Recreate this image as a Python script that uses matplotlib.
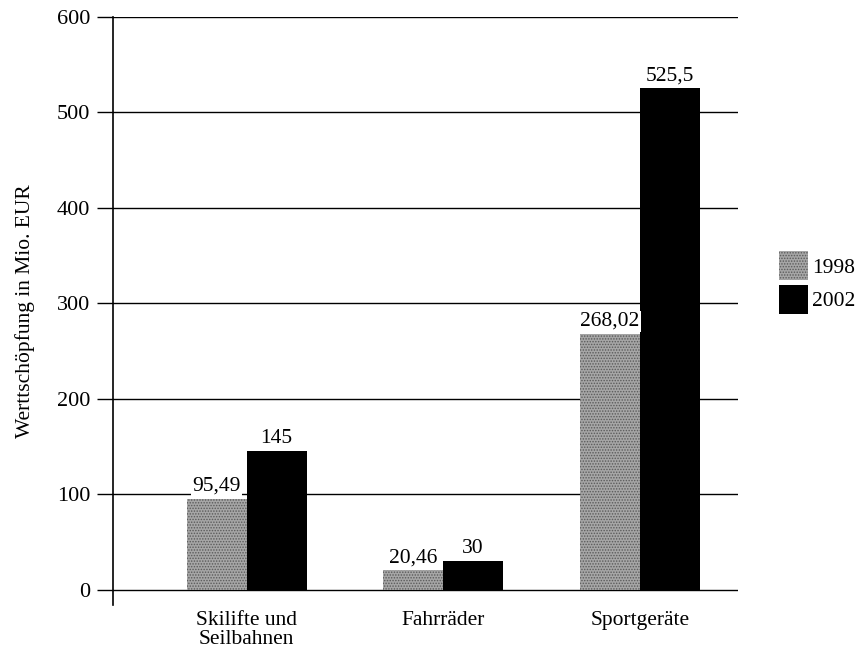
import numpy as np
import matplotlib.pyplot as plt

plt.rcParams['font.family'] = ['Liberation Serif', 'DejaVu Serif']
plt.rcParams['hatch.color'] = '#5a5a5a'
plt.rcParams['hatch.linewidth'] = 0.7

categories = ['Skilifte und\nSeilbahnen', 'Fahrräder', 'Sportgeräte']
years = ['1998', '2002']
v1998 = [95.49, 20.46, 268.02]
v2002 = [145, 30, 525.5]
labels1998 = ['95,49', '20,46', '268,02']
labels2002 = ['145', '30', '525,5']

fig = plt.figure(figsize=(8.59, 6.51), dpi=100)
ax = fig.add_axes([0.1316, 0.0707, 0.7275, 0.9032])

x = np.arange(len(categories))
w = 0.305
b1 = ax.bar(x - w/2, v1998, w, color='#a6a6a6', hatch='......', linewidth=0,
            label=years[0], zorder=3)
b2 = ax.bar(x + w/2, v2002, w, color='black', linewidth=0, label=years[1], zorder=3)

for rect, txt in zip(b1, labels1998):
    ax.text(rect.get_x() + rect.get_width()/2, rect.get_height() + 3, txt,
            ha='center', va='bottom', fontsize=15.5, zorder=4,
            bbox=dict(facecolor='white', edgecolor='none', pad=1))
for rect, txt in zip(b2, labels2002):
    ax.text(rect.get_x() + rect.get_width()/2, rect.get_height() + 3, txt,
            ha='center', va='bottom', fontsize=15.5, zorder=4,
            bbox=dict(facecolor='white', edgecolor='none', pad=1))

ax.set_xlim(-0.68, 2.5)
ax.set_ylim(-16, 600)
ax.set_yticks(range(0, 601, 100))
ax.yaxis.grid(True, color='black', linewidth=1)
ax.set_axisbelow(True)
ax.tick_params(axis='y', direction='out', length=11.5, width=1, labelsize=16, pad=5)
ax.set_xticks(x)
ax.set_xticklabels(categories, fontsize=15.5, linespacing=1.0)
ax.tick_params(axis='x', length=0, pad=4)
for s in ['top', 'right', 'bottom']:
    ax.spines[s].set_visible(False)
ax.spines['left'].set_linewidth(1.2)
ax.set_ylabel('Werttschöpfung in Mio. EUR', fontsize=15.5, labelpad=16)

fig.legend(handles=[b1, b2], labels=years, loc='center left',
           bbox_to_anchor=(0.884, 0.566), frameon=False, fontsize=15.5,
           handlelength=1.35, handleheight=1.7, handletextpad=0.2, labelspacing=0.2)

fig.savefig('out.png', dpi=100)
